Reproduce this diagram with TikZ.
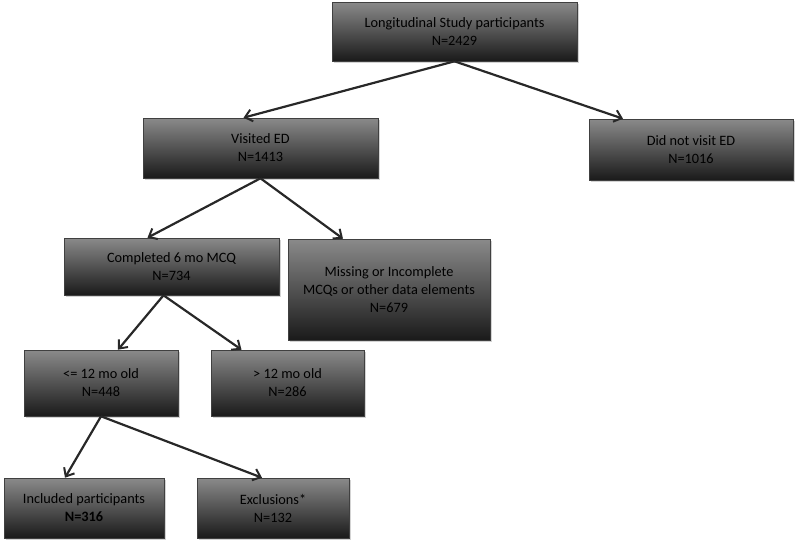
\documentclass[tikz,border=0pt]{standalone}
\usepackage{fontspec}
\setmainfont{Carlito}
\usepackage{xcolor}
\usepackage{tikz}
\usetikzlibrary{arrows.meta,positioning,shadows}

\definecolor{boxtop}{RGB}{138,138,138}
\definecolor{boxbot}{RGB}{26,26,26}
\definecolor{arrowgray}{RGB}{40,40,40}

\begin{document}
\begin{tikzpicture}[
    x=1pt, y=-1pt,
    font=\fontsize{14.3}{18}\selectfont,
    >={Straight Barb[length=7pt,width=12pt,line width=2pt]},
    stage/.style={draw=black!75, line width=0.6pt, align=center, inner sep=2pt,
      top color=boxtop, bottom color=boxbot,
      drop shadow={opacity=0.35, shadow xshift=1.5pt, shadow yshift=-1.5pt},
      minimum width=#1},
    stage/.default=200pt,
    flow/.style={->, line width=2.2pt, arrowgray}
  ]
    \useasboundingbox (0,0) rectangle (800,544);

    \node[stage=245pt, minimum height=59pt] (study) at (454.5,31.5) {Longitudinal Study participants\\N=2429};
    \node[stage=235pt, minimum height=60pt] (visited) at (260.5,148) {Visited ED\\N=1413};
    \node[stage=204pt, minimum height=61pt] (novisit) at (691,149.5) {Did not visit ED\\N=1016};
    \node[stage=215pt, minimum height=57pt] (mcq) at (171.5,266.5) {Completed 6 mo MCQ\\N=734};
    \node[stage=202pt, minimum height=101pt] (missing) at (389,289.5) {Missing or Incomplete\\MCQs or other data elements\\N=679};
    \node[stage=154pt, minimum height=66pt] (young) at (101,383) {<= 12 mo old\\N=448};
    \node[stage=153pt, minimum height=66pt] (old) at (287.5,383) {> 12 mo old\\N=286};
    \node[stage=160pt, minimum height=60pt] (included) at (84,508) {Included participants\\\textbf{N=316}};
    \node[stage=152pt, minimum height=60pt] (excluded) at (273,508) {Exclusions*\\N=132};

    \draw[flow] (study.south) -- ([xshift=-17pt]visited.north);
    \draw[flow] (study.south) -- ([xshift=-68pt]novisit.north);
    \draw[flow] (visited.south) -- ([xshift=-24pt]mcq.north);
    \draw[flow] (visited.south) -- ([xshift=-46pt]missing.north);
    \draw[flow] ([xshift=-8pt]mcq.south) -- ([xshift=17pt]young.north);
    \draw[flow] ([xshift=-8pt]mcq.south) -- ([xshift=-46pt]old.north);
    \draw[flow] (young.south) -- ([xshift=-19pt]included.north);
    \draw[flow] (young.south) -- ([xshift=-11pt]excluded.north);
  \end{tikzpicture}
\end{document}
